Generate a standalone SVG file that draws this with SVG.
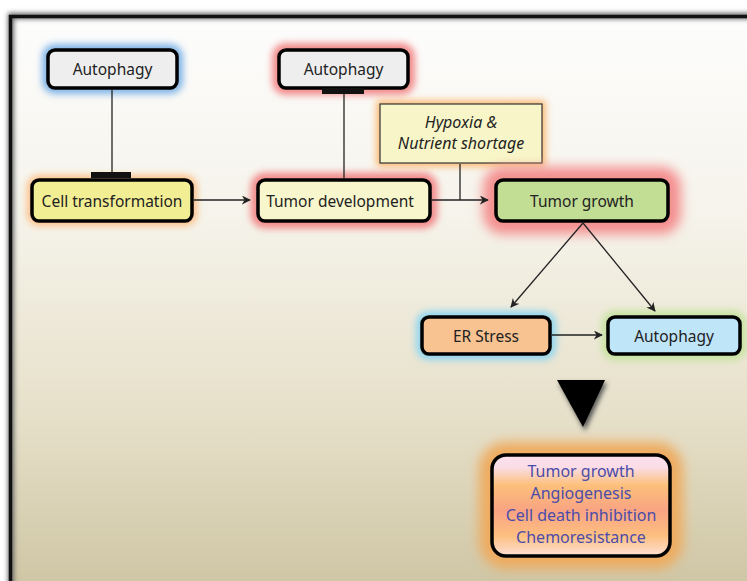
<svg xmlns="http://www.w3.org/2000/svg" width="747" height="581" viewBox="0 0 747 581">
<defs>
<linearGradient id="bg" x1="0" y1="0" x2="0" y2="1">
<stop offset="0" stop-color="#fdfdfd"/>
<stop offset="0.35" stop-color="#f5f3ea"/>
<stop offset="0.7" stop-color="#e6dfc8"/>
<stop offset="1" stop-color="#cdc4a2"/>
</linearGradient>
<linearGradient id="outg" x1="0" y1="0" x2="0" y2="1">
<stop offset="0" stop-color="#fbe0ec"/>
<stop offset="0.12" stop-color="#fbdde8"/>
<stop offset="0.3" stop-color="#fcc07a"/>
<stop offset="0.55" stop-color="#f9a383"/>
<stop offset="0.8" stop-color="#fdbf80"/>
<stop offset="1" stop-color="#fde0d6"/>
</linearGradient>
<filter id="glow" x="-30%" y="-60%" width="160%" height="220%">
<feGaussianBlur stdDeviation="3.5"/>
</filter>
<filter id="glowbig" x="-30%" y="-60%" width="160%" height="220%">
<feGaussianBlur stdDeviation="6"/>
</filter>
<filter id="shadow" x="-40%" y="-40%" width="180%" height="180%">
<feGaussianBlur stdDeviation="2.5"/>
</filter>
<marker id="arr" viewBox="0 0 10 10" refX="9" refY="5" markerWidth="9" markerHeight="9" markerUnits="userSpaceOnUse" orient="auto">
<path d="M0,0 L10,5 L0,10 L3,5 Z" fill="#222"/>
</marker>
</defs>
<style>
.box{stroke:#000;stroke-width:3.5}
.lbl{font-family:"Noto Sans","DejaVu Sans",sans-serif;font-size:15.5px;fill:#222;text-anchor:middle;dominant-baseline:central}
.ital{font-family:"Noto Sans","DejaVu Sans",sans-serif;font-size:16px;font-style:italic;fill:#222;text-anchor:middle}
.out{font-family:"Noto Sans","DejaVu Sans",sans-serif;font-size:16px;fill:#4c4caa;text-anchor:middle}
.ln{stroke:#222;stroke-width:1.3;fill:none}
</style>
<rect x="0" y="0" width="747" height="581" fill="#ffffff"/>
<rect x="11" y="16" width="745" height="580" fill="url(#bg)"/>
<rect x="11" y="16" width="745" height="580" fill="none" stroke="#666" stroke-width="6" filter="url(#shadow)"/>
<path d="M10.5,581 V16.5 H747" fill="none" stroke="#111" stroke-width="3.5"/>

<g id="autophagy1">
<rect x="48" y="50" width="129" height="38" rx="7" fill="#7fb3e6" stroke="#7fb3e6" stroke-width="12" filter="url(#glow)"/>
<rect class="box" x="48" y="50" width="129" height="38" rx="7" fill="#eeeeee"/>
<text class="lbl" x="112.5" y="69">Autophagy</text>
</g>
<g id="autophagy2">
<rect x="279" y="50" width="129" height="38" rx="7" fill="#f28c8c" stroke="#f28c8c" stroke-width="14" filter="url(#glow)"/>
<rect class="box" x="279" y="50" width="129" height="38" rx="7" fill="#eeeeee"/>
<text class="lbl" x="343.5" y="69">Autophagy</text>
</g>
<g id="cell-transformation">
<rect x="32" y="180" width="160" height="41" rx="7" fill="#fcc088" stroke="#fcc088" stroke-width="10" filter="url(#glow)"/>
<rect class="box" x="32" y="180" width="160" height="41" rx="7" fill="#f2ee94"/>
<text class="lbl" x="112" y="200.5">Cell transformation</text>
</g>
<g id="tumor-development">
<rect x="258" y="180" width="172" height="41" rx="7" fill="#f28c8c" stroke="#f28c8c" stroke-width="15" filter="url(#glow)"/>
<rect class="box" x="258" y="180" width="172" height="41" rx="7" fill="#f8f6cc"/>
<text class="lbl" x="340" y="200.5">Tumor development</text>
</g>
<g id="hypoxia">
<rect x="380" y="104" width="162" height="59" fill="#fcb870" stroke="#fcb870" stroke-width="7" filter="url(#glow)"/>
<rect x="380" y="104" width="162" height="59" fill="#f8f6c8" stroke="#333" stroke-width="1.2"/>
<text class="ital" x="461" y="128">Hypoxia &amp;</text>
<text class="ital" x="461" y="149">Nutrient shortage</text>
</g>
<g id="tumor-growth">
<rect x="496" y="180" width="172" height="41" rx="7" fill="#f48f8f" stroke="#f48f8f" stroke-width="26" filter="url(#glowbig)"/>
<rect class="box" x="496" y="180" width="172" height="41" rx="7" fill="#c2dd94"/>
<text class="lbl" x="582" y="200.5">Tumor growth</text>
</g>
<g id="er-stress">
<rect x="422" y="317" width="128" height="37" rx="7" fill="#8fd6ef" stroke="#8fd6ef" stroke-width="12" filter="url(#glow)"/>
<rect class="box" x="422" y="317" width="128" height="37" rx="7" fill="#f9c391"/>
<text class="lbl" x="486" y="335.5">ER Stress</text>
</g>
<g id="autophagy3">
<rect x="608" y="317" width="132" height="37" rx="7" fill="#c8e3a0" stroke="#c8e3a0" stroke-width="13" filter="url(#glow)"/>
<rect class="box" x="608" y="317" width="132" height="37" rx="7" fill="#bfe5f8"/>
<text class="lbl" x="674" y="335.5">Autophagy</text>
</g>
<g id="outcomes">
<rect x="492" y="455" width="178" height="101" rx="14" fill="#eeac60" stroke="#eeac60" stroke-width="26" filter="url(#glowbig)"/>
<rect class="box" x="492" y="455" width="178" height="101" rx="14" fill="url(#outg)"/>
<text class="out" x="581" y="477">Tumor growth</text>
<text class="out" x="581" y="499">Angiogenesis</text>
<text class="out" x="581" y="521">Cell death inhibition</text>
<text class="out" x="581" y="543">Chemoresistance</text>
</g>

<g id="connectors">
<line class="ln" x1="112" y1="90" x2="112" y2="173"/>
<rect x="91" y="172" width="40" height="6" fill="#111"/>
<rect x="322" y="88" width="42" height="6" fill="#111"/>
<line class="ln" x1="344" y1="94" x2="344" y2="178"/>
<line class="ln" x1="194" y1="200" x2="250" y2="200" marker-end="url(#arr)"/>
<line class="ln" x1="432" y1="200" x2="488" y2="200" marker-end="url(#arr)"/>
<line class="ln" x1="460" y1="164" x2="460" y2="200"/>
<line class="ln" x1="583" y1="223" x2="511" y2="307" marker-end="url(#arr)"/>
<line class="ln" x1="583" y1="223" x2="655" y2="311" marker-end="url(#arr)"/>
<line class="ln" x1="552" y1="335" x2="602" y2="335" marker-end="url(#arr)"/>
<path d="M559,383 L607,383 L585,431 Z" fill="#555" filter="url(#shadow)"/>
<path d="M557,380 L605,380 L583,427 Z" fill="#000"/>
</g>
</svg>
